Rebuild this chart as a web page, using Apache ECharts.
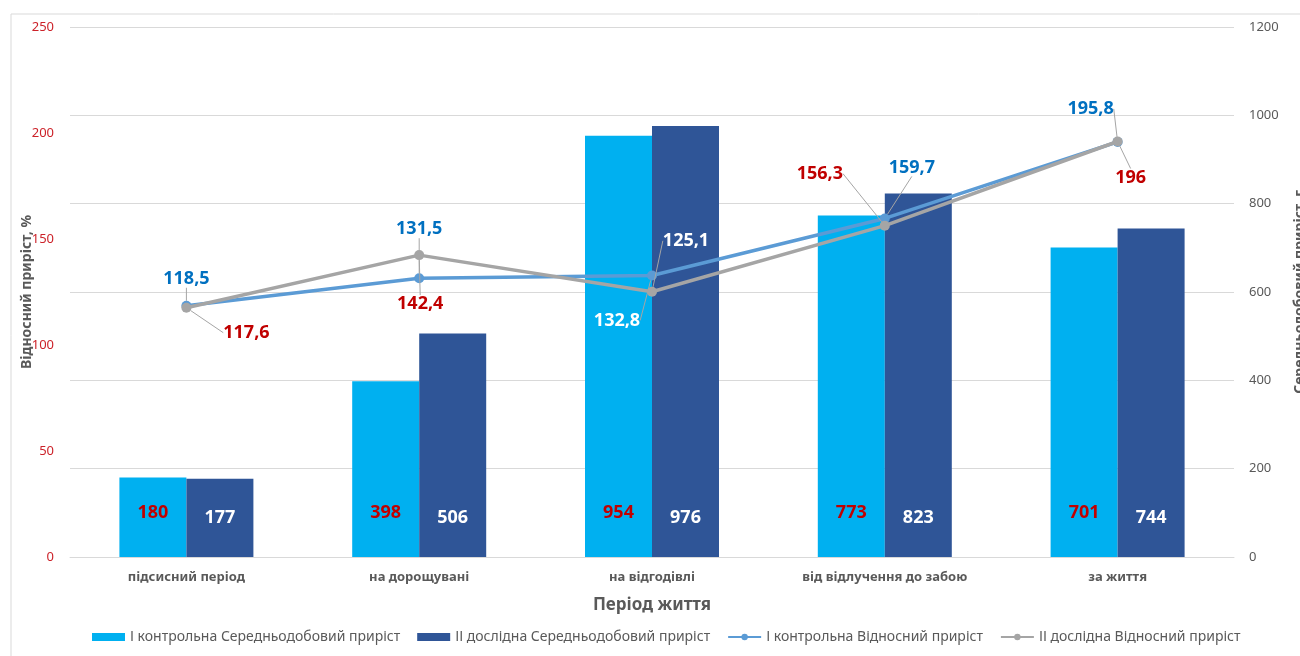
<!DOCTYPE html>
<html>
<head>
<meta charset="utf-8">
<script src="https://cdn.jsdelivr.net/npm/echarts@6/dist/echarts.min.js"></script>
<style>
  html, body { margin: 0; padding: 0; background: #fff; }
  #chart { width: 1300px; height: 656px; }
</style>
</head>
<body>
<div id="chart"></div>
<script>
// Periods of life
const categories = ['підсисний період', 'на дорощувані', 'на відгодівлі', 'від відлучення до забою', 'за життя'];

// Average daily gain, g (right axis)
const dailyGainControl = [180, 398, 954, 773, 701];
const dailyGainTrial = [177, 506, 976, 823, 744];

// Relative gain, % (left axis)
const relGainControl = [118.5, 131.5, 132.8, 159.7, 195.8];
const relGainTrial = [117.6, 142.4, 125.1, 156.3, 196];

const leftTicks = { min: 0, max: 250, interval: 50 };
const rightTicks = { min: 0, max: 1200, interval: 200 };

const seriesNames = [
  'І контрольна Середньодобовий приріст',
  'ІІ дослідна Середньодобовий приріст',
  'І контрольна Відносний приріст',
  'ІІ дослідна Відносний приріст'
];

// label displacement (px) from each point, with a leader line back to it
const ctrlLabelShift = [[0, -27], [0, -49], [-35, 45], [27, -51], [-27, -33]];
const trialLabelShift = [[60, 25], [1, 49], [34, -51], [-65, -52], [13, 36]];
// labels sitting over the bars are drawn white
const whiteLabelAt = [2];

const FONT = '"Noto Sans", "Open Sans", sans-serif';
const RED = '#C00000';
const TICK_RED = '#CC2229';
const BLUE_TXT = '#0070C0';
const GREY_TXT = '#595959';

function commaFmt(v) { return String(v).replace('.', ','); }

function lineData(values, color) {
  return values.map((v, i) => ({
    value: v,
    label: { color: whiteLabelAt.includes(i) ? '#ffffff' : color }
  }));
}

const chart = echarts.init(document.getElementById('chart'), null, { renderer: 'canvas' });

const option = {
  backgroundColor: '#ffffff',
  animation: false,
  textStyle: { fontFamily: FONT },
  graphic: [{
    type: 'rect',
    shape: { x: 11, y: 14, width: 1320, height: 700 },
    style: { fill: 'none', stroke: '#d9d9d9', lineWidth: 1 },
    silent: true,
    z: -10
  }],
  grid: { left: 70, right: 66, top: 27, bottom: 99, containLabel: false, outerBoundsMode: 'none' },
  legend: {
    bottom: 7,
    left: 87,
    itemWidth: 33,
    itemHeight: 8,
    itemGap: 17,
    textStyle: { fontFamily: FONT, fontSize: 14, color: GREY_TXT },
    data: [
      { name: seriesNames[0], icon: 'rect' },
      { name: seriesNames[1], icon: 'rect' },
      { name: seriesNames[2] },
      { name: seriesNames[3] }
    ]
  },
  xAxis: {
    type: 'category',
    data: categories,
    name: 'Період життя',
    nameLocation: 'middle',
    nameGap: 40,
    nameMoveOverlap: false,
    nameTextStyle: { fontFamily: FONT, fontSize: 17, fontWeight: 'bold', color: GREY_TXT },
    axisLine: { show: true, lineStyle: { color: '#d9d9d9' } },
    axisTick: { show: false },
    axisLabel: { fontFamily: FONT, fontSize: 13, fontWeight: 'bold', color: GREY_TXT, margin: 14 },
    splitLine: { show: false }
  },
  yAxis: [
    {
      type: 'value',
      min: leftTicks.min, max: leftTicks.max, interval: leftTicks.interval,
      position: 'left',
      name: 'Відносний приріст, %',
      nameLocation: 'middle',
      nameRotate: 90,
      nameGap: 36,
      nameMoveOverlap: false,
      nameTextStyle: { fontFamily: FONT, fontSize: 14, fontWeight: 'bold', color: GREY_TXT },
      axisLine: { show: false },
      axisTick: { show: false },
      axisLabel: { fontFamily: FONT, fontSize: 13, color: TICK_RED, margin: 16, formatter: v => String(v) },
      splitLine: { show: false }
    },
    {
      type: 'value',
      min: rightTicks.min, max: rightTicks.max, interval: rightTicks.interval,
      position: 'right',
      name: 'Середньодобовий приріст, г',
      nameLocation: 'middle',
      nameRotate: 90,
      nameGap: 59,
      nameTextStyle: { fontFamily: FONT, fontSize: 14, fontWeight: 'bold', color: GREY_TXT },
      axisLine: { show: false },
      axisTick: { show: false },
      axisLabel: { fontFamily: FONT, fontSize: 13, color: GREY_TXT, margin: 15, formatter: v => String(v) },
      splitLine: { show: true, lineStyle: { color: '#d9d9d9', width: 1 } }
    }
  ],
  series: [
    {
      name: seriesNames[0],
      type: 'bar',
      yAxisIndex: 1,
      data: dailyGainControl,
      barWidth: 67,
      barGap: '0%',
      itemStyle: { color: '#00B0F0' },
      label: {
        show: true, position: 'insideBottom', distance: 35,
        fontFamily: FONT, fontSize: 18, fontWeight: 'bold', color: RED
      },
      z: 2
    },
    {
      name: seriesNames[1],
      type: 'bar',
      yAxisIndex: 1,
      data: dailyGainTrial,
      barWidth: 67,
      barGap: '0%',
      itemStyle: { color: '#2F5597' },
      label: {
        show: true, position: 'insideBottom', distance: 30,
        fontFamily: FONT, fontSize: 18, fontWeight: 'bold', color: '#ffffff'
      },
      z: 2
    },
    {
      name: seriesNames[2],
      type: 'line',
      yAxisIndex: 0,
      data: lineData(relGainControl, BLUE_TXT),
      symbol: 'circle',
      symbolSize: 10,
      lineStyle: { color: '#5B9BD5', width: 3.5 },
      itemStyle: { color: '#5B9BD5' },
      label: {
        show: true, position: 'inside',
        fontFamily: FONT, fontSize: 18, fontWeight: 'bold',
        formatter: p => commaFmt(p.value)
      },
      labelLine: { show: true, lineStyle: { color: '#a5a5a5', width: 1 } },
      labelLayout: p => ({ dx: ctrlLabelShift[p.dataIndex][0], dy: ctrlLabelShift[p.dataIndex][1] }),
      z: 5
    },
    {
      name: seriesNames[3],
      type: 'line',
      yAxisIndex: 0,
      data: lineData(relGainTrial, RED),
      symbol: 'circle',
      symbolSize: 10,
      lineStyle: { color: '#A5A5A5', width: 3.5 },
      itemStyle: { color: '#A5A5A5' },
      label: {
        show: true, position: 'inside',
        fontFamily: FONT, fontSize: 18, fontWeight: 'bold',
        formatter: p => commaFmt(p.value)
      },
      labelLine: { show: true, lineStyle: { color: '#a5a5a5', width: 1 } },
      labelLayout: p => ({ dx: trialLabelShift[p.dataIndex][0], dy: trialLabelShift[p.dataIndex][1] }),
      z: 6
    }
  ]
};

chart.setOption(option);
</script>
</body>
</html>
